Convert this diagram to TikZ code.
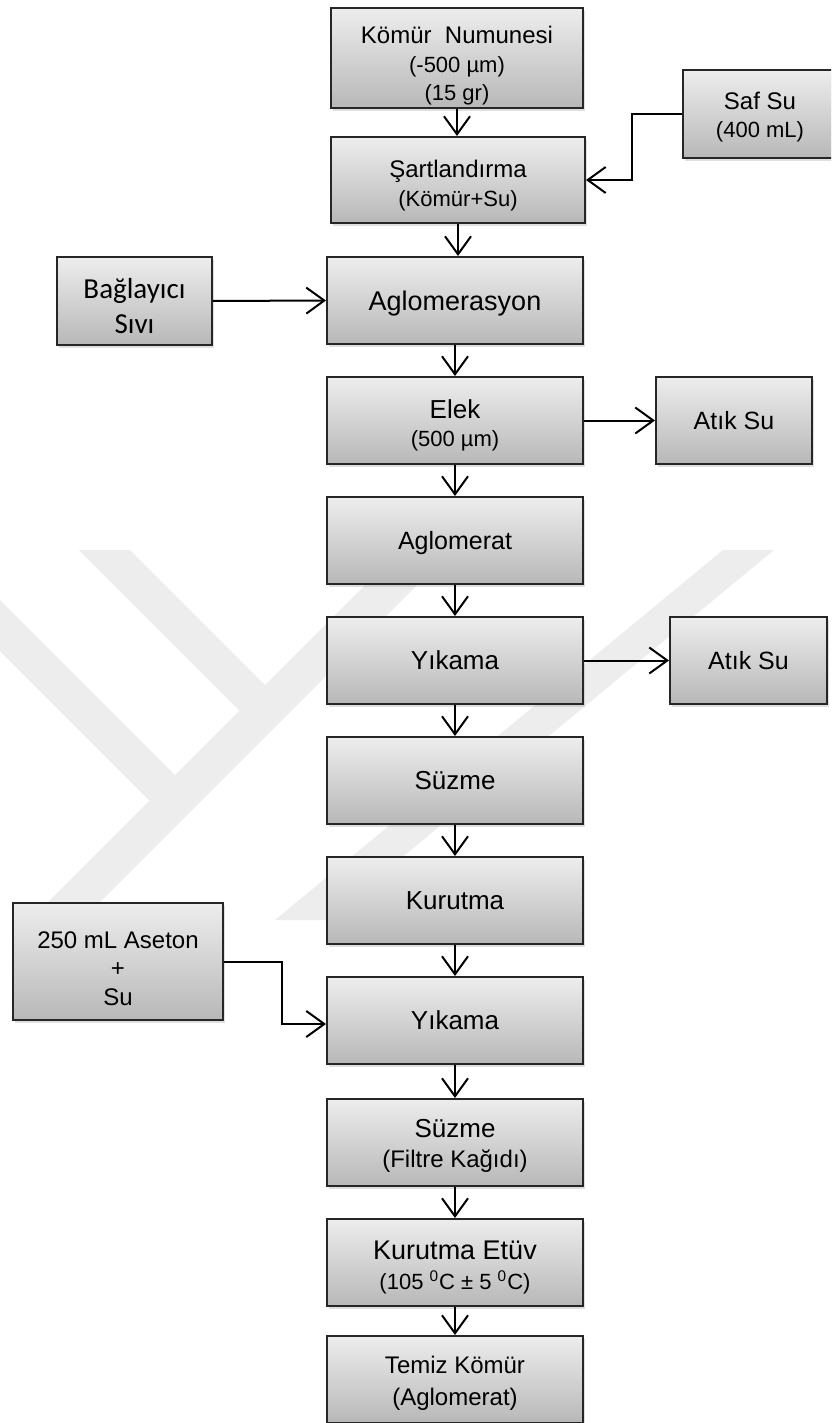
\documentclass[tikz,border=0pt]{standalone}
\usepackage{fontspec}
\setmainfont{Liberation Sans}
\newfontfamily\calfont{Carlito}
\usetikzlibrary{arrows.meta,shadows}
\newcommand{\fs}[2]{\fontsize{#1}{#2}\selectfont}
\newcommand{\tst}[1]{\rule{0pt}{#1}}
\tikzset{
  box/.style={draw=black!85, line width=1pt, top color=black!7, bottom color=black!28,
    drop shadow={shadow xshift=1pt, shadow yshift=-1.5pt, opacity=0.25},
    minimum width=128pt, minimum height=43.5pt, inner sep=0pt, align=center,
    font=\fs{13}{14}},
  arr/.style={line width=1pt, -{Straight Barb[length=9pt,width=13pt,line width=1pt]}},
  wm/.style={fill=black!7, draw=none}
}
\begin{document}
\begin{tikzpicture}[x=0.5pt,y=-0.5pt]
\useasboundingbox (0,0) rectangle (831,1423);
\clip (0,0) rectangle (831,1423);
\fill[white] (0,0) rectangle (831,1423);
% watermark
\fill[wm] (79,550) -- (130,550) -- (265,685) -- (239.5,710.5) -- cycle;
\fill[wm] (0,600) -- (175,775) -- (149.5,800.5) -- (0,651) -- cycle;
\fill[wm] (400,550) -- (452,550) -- (82,920) -- (30,920) -- cycle;
\fill[wm] (723,550) -- (774,550) -- (326,920) -- (275,920) -- cycle;
% nodes
\node[box, minimum width=126pt, minimum height=50pt, font=\fs{12}{14.2}] (k1) at (457,58)
  {\tst{16.5pt}Kömür\ \ Numunesi\\\fs{11}{13}(-500 µm)\\\fs{11}{13}(15 gr)};
\node[box, minimum width=127pt, minimum height=43pt, font=\fs{12}{14.6}] (k2) at (458,180)
  {\tst{14pt}Şartlandırma\\\fs{11}{13}(Kömür+Su)};
\node[box, minimum width=77pt, minimum height=44pt, font=\fs{12}{13.8}] (saf) at (760,114)
  {\tst{12pt}Saf Su\\\fs{11}{13}(400 mL)};
\node[box, minimum width=77.5pt, minimum height=44pt, font=\calfont\fs{14.5}{17.5}] (bag) at (134.5,301)
  {\tst{15pt}Bağlayıcı\\Sıvı};
\node[box, font=\fs{13.5}{14}, text depth=0pt] (ag) at (455,300.5) {Aglomerasyon};
\node[box, font=\fs{13}{14.2}] (elek) at (455,420.5) {\tst{14.5pt}Elek\\\fs{11}{13}(500 µm)};
\node[box, minimum width=78pt, font=\fs{12.5}{14}] (at1) at (734,420.5) {Atık Su};
\node[box, font=\fs{12.5}{14}, text depth=0pt] (aglo) at (455,540.5) {Aglomerat};
\node[box] (yik1) at (455,660.5) {Yıkama};
\node[box, minimum width=78.5pt, font=\fs{12.5}{14}] (at2) at (748.5,660.5) {Atık Su};
\node[box] (suz1) at (455,780.5) {Süzme};
\node[box] (kur1) at (455,900.5) {Kurutma};
\node[box, minimum width=105pt, minimum height=58.5pt, font=\fs{12}{14.3}] (ase) at (118,961.5)
  {\tst{15.3pt}250 mL Aseton\\+\\Su};
\node[box] (yik2) at (455,1020.5) {Yıkama};
\node[box, font=\fs{13}{15}] (suz2) at (455,1142.5) {\tst{12.5pt}Süzme\\\fs{12}{14}(Filtre Kağıdı)};
\node[box, font=\fs{13.5}{15}] (etuv) at (455,1262.5) {\tst{14pt}Kurutma Etüv\\\fs{11}{13}(105 \textsuperscript{0}C ± 5 \textsuperscript{0}C)};
\node[box, font=\fs{12}{16}] (tem) at (455,1379.5) {\tst{12.8pt}Temiz Kömür\\(Aglomerat)};
% connectors
\draw[arr] (k1.south) -- (k1.south |- k2.north);
\draw[arr] (saf.west) -- ++(-50,0) |- (k2.east);
\draw[arr] (k2.south) -- (k2.south |- ag.north);
\draw[arr] (bag.east) -- (ag.west);
\draw[arr] (ag) -- (elek);
\draw[arr] (elek.east) -- (at1.west);
\draw[arr] (elek) -- (aglo);
\draw[arr] (aglo) -- (yik1);
\draw[arr] (yik1.east) -- (at2.west);
\draw[arr] (yik1) -- (suz1);
\draw[arr] (suz1) -- (kur1);
\draw[arr] (kur1) -- (yik2);
\draw[arr] (ase.east) -- ++(58,0) |- ([yshift=-1.75pt]yik2.west);
\draw[arr] (yik2) -- (suz2);
\draw[arr] (suz2) -- (etuv);
\draw[arr] (etuv) -- (tem);
\end{tikzpicture}
\end{document}
